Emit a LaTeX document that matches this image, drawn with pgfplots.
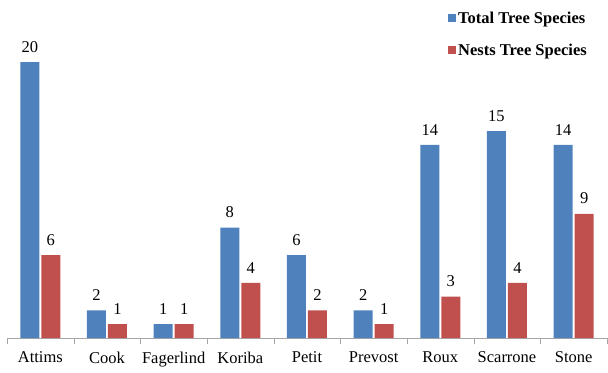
\documentclass[border=0pt]{standalone}
\usepackage{pgfplots}
\pgfplotsset{compat=1.18}
\usepackage{fontspec}
\setmainfont{Liberation Serif}
\definecolor{cblue}{HTML}{4F81BD}
\definecolor{cred}{HTML}{C0504D}
\begin{document}
\fontsize{16.5}{20}\selectfont
\begin{tikzpicture}
\begin{axis}[
  scale only axis,
  width=600pt, height=338pt,
  xmin=-0.5, xmax=8.5,
  ymin=0, ymax=24.5,
  axis x line*=bottom,
  axis y line=none,
  axis line style={draw=gray!70},
  xtick={0,...,8},
  xticklabels={Attims,Cook,Fagerlind,Koriba,Petit,Prevost,Roux,Scarrone,Stone},
  major tick length=0pt,
  minor xtick={-0.5,0.5,...,8.5},
  minor tick length=6pt,
  tick align=outside,
  minor tick style={draw=gray!70},
  xticklabel style={font=\fontsize{16.5}{20}\selectfont, yshift=-8pt},
  ybar,
  bar width=19pt,
  nodes near coords,
  nodes near coords style={font=\fontsize{16.5}{20}\selectfont, yshift=4pt},
  /pgf/number format/assume math mode=true,
  legend style={draw=none, fill=none, at={(0.97,0.972)}, anchor=north east,
    font=\bfseries\fontsize{16.5}{19}\selectfont, row sep=14pt, inner sep=0pt,
    legend cell align=left},
  legend image code/.code={\fill[#1] (0pt,-3.5pt) rectangle (8pt,4.5pt);},
  clip=false,
]
\addplot[fill=cblue, draw=none] coordinates {(0,20) (1,2) (2,1) (3,8) (4,6) (5,2) (6,14) (7,15) (8,14)};
\addplot[fill=cred, draw=none] coordinates {(0,6) (1,1) (2,1) (3,4) (4,2) (5,1) (6,3) (7,4) (8,9)};
\legend{Total Tree Species, Nests Tree Species}
\end{axis}
\path[use as bounding box] (-7pt,-33pt) rectangle (601pt,338pt);
\end{tikzpicture}
\end{document}
